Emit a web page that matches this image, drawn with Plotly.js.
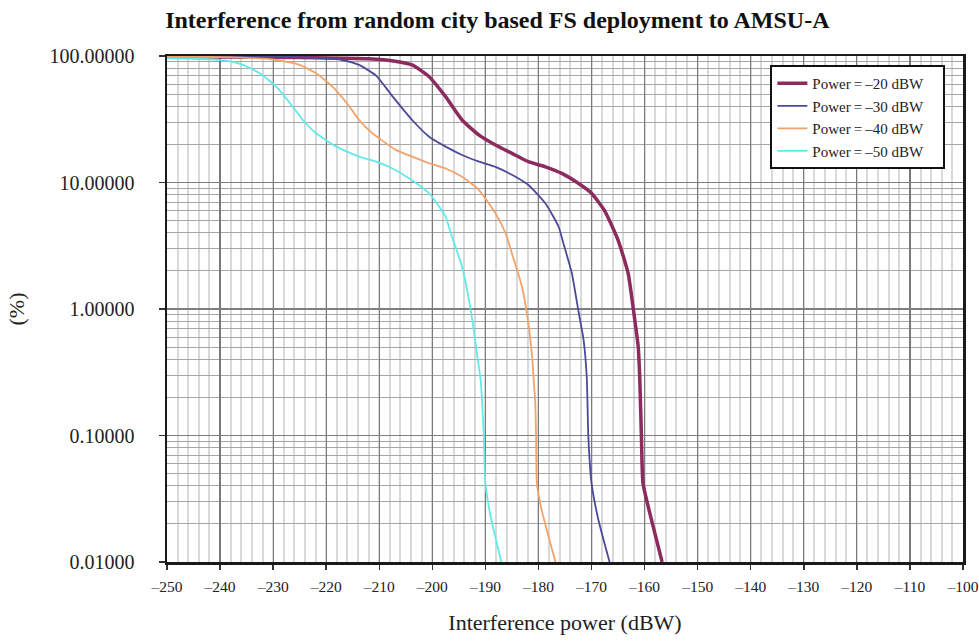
<!DOCTYPE html>
<html>
<head>
<meta charset="utf-8">
<script src="https://cdn.plot.ly/plotly-3.0.1.min.js"></script>
<style>html,body{margin:0;padding:0;background:#fff;}#chart{width:979px;height:643px;}</style>
</head>
<body>
<div id="chart"></div>
<script>
// Series names
const seriesNames = ['Power\u2009=\u2009–20 dBW\u2003', 'Power\u2009=\u2009–30 dBW\u2003', 'Power\u2009=\u2009–40 dBW\u2003', 'Power\u2009=\u2009–50 dBW\u2003'];

// Power = -20 dBW
const x20 = [-250, -238.7, -225, -212, -207, -203.8, -200.6, -197.5, -194.4, -191.2, -188.1, -185, -181.9, -178.7, -175.6, -172.5, -170, -167.5, -165, -163.1, -162.1, -161.2, -160.9, -160.6, -160.3, -158.7, -156.7];
const y20 = [98.5, 98.3, 97.3, 95, 91, 85, 68.6, 47.7, 31.2, 23.7, 19.8, 17.0, 14.6, 13.3, 11.8, 9.86, 8.22, 5.95, 3.51, 1.91, 0.98, 0.50, 0.275, 0.098, 0.042, 0.0215, 0.0100];

// Power = -30 dBW
const x30 = [-250, -226.3, -217, -213.8, -210.6, -207.5, -203.8, -200.6, -197.5, -194.4, -191.2, -188.1, -185, -181.9, -178.7, -176.2, -175.3, -173.7, -172.5, -171.5, -170.9, -170.6, -170, -168.7, -166.6];
const y30 = [98.5, 98.3, 93, 85, 70, 48, 31.2, 23.0, 19.2, 16.5, 14.6, 13.3, 11.5, 9.55, 6.85, 4.47, 3.3, 1.91, 0.98, 0.57, 0.29, 0.098, 0.042, 0.0215, 0.0100];

// Power = -40 dBW
const x40 = [-250, -238.8, -229.4, -225, -221.9, -218.8, -215.6, -213.8, -211.3, -210, -206.9, -203.8, -200.6, -197.5, -194.4, -191.2, -188.1, -186.2, -185, -183.1, -181.9, -181.2, -180.9, -180.6, -180.45, -180.3, -179.4, -176.8];
const y40 = [98.5, 98, 93, 85, 73, 57.2, 39.7, 31.2, 24.5, 22.3, 18.1, 16.0, 14.2, 12.9, 11.1, 8.72, 5.71, 3.97, 2.75, 1.50, 0.77, 0.42, 0.275, 0.18, 0.098, 0.042, 0.0258, 0.0100];

// Power = -50 dBW
const x50 = [-250, -241.9, -238.8, -235.7, -232.5, -229.4, -226.3, -224.4, -221.9, -218.1, -213.8, -210.6, -207.5, -204.4, -200.6, -198.7, -197.5, -196.3, -194.4, -193.1, -192.2, -191.6, -190.9, -190.3, -190, -189, -187.0];
const y50 = [96, 94.2, 91.8, 85, 73, 57.2, 39.7, 31.2, 24.5, 19.2, 16.0, 14.6, 12.9, 10.8, 8.22, 6.44, 5.37, 3.73, 2.16, 1.18, 0.683, 0.447, 0.275, 0.098, 0.042, 0.0228, 0.0100];

// Tick labels
const xTickVals = [-250, -240, -230, -220, -210, -200, -190, -180, -170, -160, -150, -140, -130, -120, -110, -100];
const xTickText = ['–250', '–240', '–230', '–220', '–210', '–200', '–190', '–180', '–170', '–160', '–150', '–140', '–130', '–120', '–110', '–100'];
const yTickVals = [0.01, 0.1, 1, 10, 100];
const yTickText = ['0.01000', '0.10000', '1.00000', '10.00000', '100.00000'];

const colors = ['#8c2b5d', '#4b4a98', '#f2a36a', '#62eaea'];
const widths = [3.5, 1.8, 1.8, 1.8];
const xs = [x20, x30, x40, x50];
const ys = [y20, y30, y40, y50];

const traces = xs.map((x, i) => ({
  x: x, y: ys[i], type: 'scatter', mode: 'lines', name: seriesNames[i],
  line: {color: colors[i], width: widths[i], shape: 'spline', smoothing: 0.5}
}));

const serif = 'Liberation Serif, Times New Roman, serif';

const layout = {
  width: 979, height: 643,
  margin: {l: 167, r: 16, t: 56, b: 81},
  paper_bgcolor: '#fff', plot_bgcolor: '#fff',
  font: {family: serif, color: '#222'},
  title: {text: '<b>Interference from random city based FS deployment to AMSU-A</b>',
          font: {family: serif, size: 24, color: '#111'},
          x: 0.508, xref: 'container', xanchor: 'center', y: 0.969, yref: 'container', yanchor: 'middle'},
  xaxis: {
    range: [-250, -100], tickmode: 'array', tickvals: xTickVals, ticktext: xTickText,
    tickfont: {family: serif, size: 15.5, color: '#222'},
    ticks: 'outside', ticklen: 5, tickwidth: 1.5, tickcolor: '#333',
    ticklabelstandoff: 4, ticklabeloverflow: 'allow',
    showgrid: true, gridcolor: '#7a7a7a', gridwidth: 1.2,
    minor: {dtick: 2, tick0: -250, showgrid: true, gridcolor: '#d9d9d9', gridwidth: 2, ticks: ''},
    showline: true, mirror: true, linecolor: '#1a1a1a', linewidth: 2.5,
    zeroline: false, automargin: false,
    title: {text: 'Interference power (dBW)', font: {family: serif, size: 22, color: '#222'}, standoff: 21}
  },
  yaxis: {
    type: 'log', range: [-2, 2], tickmode: 'array', tickvals: yTickVals, ticktext: yTickText,
    tickfont: {family: serif, size: 20, color: '#222'},
    ticks: 'outside', ticklen: 6, tickwidth: 1.5, tickcolor: '#333',
    ticklabelstandoff: 20, ticklabeloverflow: 'allow',
    showgrid: true, gridcolor: '#7e7e7e', gridwidth: 1.3,
    minor: {dtick: 'D1', showgrid: true, gridcolor: '#a6a6a6', gridwidth: 1.1, ticks: ''},
    showline: true, mirror: true, linecolor: '#1a1a1a', linewidth: 2.5,
    zeroline: false, automargin: false,
    title: {text: '(%)', font: {family: serif, size: 22, color: '#222'}, standoff: 19}
  },
  showlegend: true,
  legend: {
    x: 0.758, y: 0.982, xanchor: 'left', yanchor: 'top',
    bgcolor: '#fff', bordercolor: '#111', borderwidth: 2,
    font: {family: serif, size: 15, color: '#222'}
  }
};

Plotly.newPlot('chart', traces, layout, {staticPlot: true, displayModeBar: false});
</script>
</body>
</html>
